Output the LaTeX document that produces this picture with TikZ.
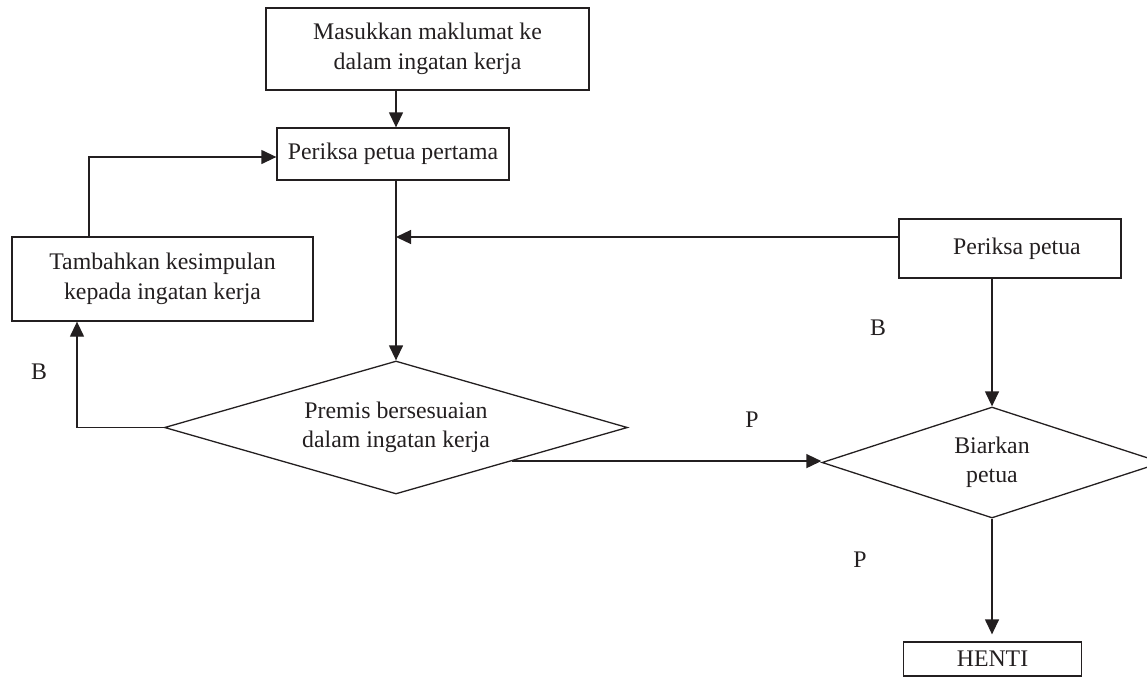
\documentclass[tikz,border=0pt]{standalone}
\usepackage{fontspec}
\setmainfont{Liberation Serif}
\usetikzlibrary{shapes.geometric,arrows.meta}
\definecolor{ink}{HTML}{231F20}
\begin{document}
\begin{tikzpicture}[x=1pt,y=-1pt,
  every node/.style={font=\fontsize{23.8}{29.5}\selectfont, text=ink},
  box/.style={draw=ink, line width=1.3pt, inner sep=0pt, align=center},
  dia/.style={draw=ink, line width=1.3pt, diamond, inner sep=0pt, align=center},
  line/.style={draw=ink, line width=1.3pt},
  arr/.style={line, -{Triangle[length=15pt,width=14pt]}},
  lbl/.style={inner sep=0pt}]
\useasboundingbox (0,0) rectangle (1147,678);
\node[box, minimum width=323pt, minimum height=82pt] (box1) at (427.5,49) {Masukkan maklumat ke\\dalam ingatan kerja};
\node[box, minimum width=232pt, minimum height=52pt] (box2) at (393,154) {Periksa petua pertama};
\node[box, minimum width=301pt, minimum height=84pt] (box3) at (162.5,279) {Tambahkan kesimpulan\\kepada ingatan kerja};
\node[box, minimum width=222pt, minimum height=59pt] (box4) at (1010,248.5) {\hspace*{14pt}Periksa petua};
\node[dia, aspect=3.48, minimum width=463pt, minimum height=133pt] (d1) at (396,427.5) {Premis bersesuaian\\dalam ingatan kerja};
\node[dia, aspect=3.06, minimum width=340pt, minimum height=111pt] (d2) at (992,462.5) {Biarkan\\petua};
\node[box, minimum width=178pt, minimum height=34pt] (henti) at (992.5,659) {HENTI};
\coordinate (j) at (396,237);
\coordinate (lt) at (89,157);
\coordinate (bl) at (77,427.5);
% connectors
\draw[arr] (box1.south -| d1.north) -- (box2.north -| d1.north);
\draw[arr] (box2.south -| d1.north) -- (d1.north);
\draw[arr] (box4.west |- j) -- (j);
\draw[arr] (box3.north -| lt) -- (lt) -- (box2.west |- lt);
\draw[arr] (d1.west) -- (bl) -- (box3.south -| bl);
\draw[arr] (d1.south east) -- (d1.south east -| d2.west);
\draw[arr] (box4.south -| d2.north) -- (d2.north);
\draw[arr, shorten >=7pt] (d2.south) -- (henti.north -| d2.south);
% labels
\node[lbl] (lb1) at (39,372) {B};
\node[lbl] (lp1) at (752,419.5) {P};
\node[lbl] (lb2) at (878,328) {B};
\node[lbl] (lp2) at (860,560) {P};
\end{tikzpicture}
\end{document}
